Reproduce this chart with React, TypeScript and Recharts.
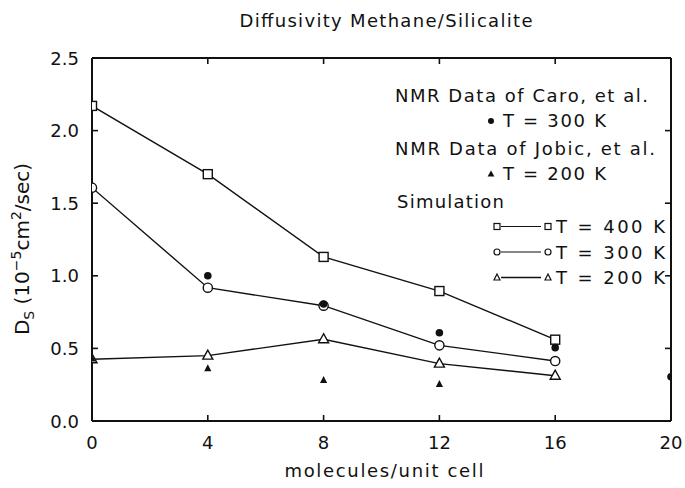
import React from 'react';
import { ComposedChart, Line, Scatter, XAxis, YAxis } from 'recharts';

// ---- data ----
const xTicks = [0, 4, 8, 12, 16, 20];
const yTicks = [0, 0.5, 1.0, 1.5, 2.0, 2.5];
const yTickLabels = ['0.0', '0.5', '1.0', '1.5', '2.0', '2.5'];

const simLoadings = [0, 4, 8, 12, 16];
const sim400 = [2.17, 1.70, 1.13, 0.895, 0.56];
const sim300 = [1.607, 0.918, 0.794, 0.521, 0.413];
const sim200 = [0.425, 0.45, 0.563, 0.395, 0.312];

const caroLoadings = [4, 8, 12, 16, 20];
const caro300 = [1.0, 0.806, 0.608, 0.505, 0.305];

const jobicLoadings = [0, 4, 8, 12];
const jobic200 = [0.43, 0.363, 0.282, 0.255];

const toPoints = (xs: number[], ys: number[]) => xs.map((x, i) => ({ x, y: ys[i] }));

const W = 685;
const H = 488;
const FONT = '"DejaVu Sans", "Liberation Sans", sans-serif';
const INK = '#111';
const TICK_LEN = 6;

// ---- markers ----
const OpenSquare = (props: any) => {
  const { cx, cy, index } = props;
  if (cx == null || cy == null) return <g key={`sq-${index}`} />;
  return (
    <rect key={`sq-${index}`} x={cx - 4.5} y={cy - 4.5} width={9} height={9}
      fill="#fff" stroke={INK} strokeWidth={1.4} />
  );
};
const OpenCircle = (props: any) => {
  const { cx, cy, index } = props;
  if (cx == null || cy == null) return <g key={`ci-${index}`} />;
  return <circle key={`ci-${index}`} cx={cx} cy={cy} r={4.6} fill="#fff" stroke={INK} strokeWidth={1.4} />;
};
const OpenTriangle = (props: any) => {
  const { cx, cy, index } = props;
  if (cx == null || cy == null) return <g key={`tr-${index}`} />;
  return (
    <polygon key={`tr-${index}`}
      points={`${cx},${cy - 5.5} ${cx - 5},${cy + 3.5} ${cx + 5},${cy + 3.5}`}
      fill="#fff" stroke={INK} strokeWidth={1.4} strokeLinejoin="miter" />
  );
};
const FilledCircle = (props: any) => {
  const { cx, cy } = props;
  return <circle cx={cx} cy={cy} r={3.8} fill={INK} />;
};
const FilledTriangle = (props: any) => {
  const { cx, cy } = props;
  return <polygon points={`${cx},${cy - 4} ${cx - 3.6},${cy + 3} ${cx + 3.6},${cy + 3}`} fill={INK} />;
};

// ---- axis ticks (inward tick marks + labels) ----
const BOTTOM_MARGIN = 15;
const LEFT_MARGIN = 13;

const BottomTick = (props: any) => {
  const { x, y, payload } = props;
  const axisY = y - BOTTOM_MARGIN;
  return (
    <g>
      <line x1={x} x2={x} y1={axisY} y2={axisY - TICK_LEN} stroke={INK} strokeWidth={1.6} />
      <text x={x} y={y} dy={13} textAnchor="middle" fontFamily={FONT} fontSize={18} fill={INK}>
        {payload.value}
      </text>
    </g>
  );
};
const LeftTick = (props: any) => {
  const { x, y, payload } = props;
  const axisX = x + LEFT_MARGIN;
  const i = yTicks.indexOf(payload.value);
  return (
    <g>
      <line x1={axisX} x2={axisX + TICK_LEN} y1={y} y2={y} stroke={INK} strokeWidth={1.6} />
      <text x={x} y={y} dy={6.5} textAnchor="end" fontFamily={FONT} fontSize={18} fill={INK}>
        {i >= 0 ? yTickLabels[i] : String(payload.value)}
      </text>
    </g>
  );
};
const TopTick = (props: any) => {
  const { x, y } = props;
  return <line x1={x} x2={x} y1={y} y2={y + TICK_LEN} stroke={INK} strokeWidth={1.6} />;
};
const RightTick = (props: any) => {
  const { x, y } = props;
  return <line x1={x} x2={x - TICK_LEN} y1={y} y2={y} stroke={INK} strokeWidth={1.6} />;
};

const axisLine = { stroke: INK, strokeWidth: 2 };

const textProps = { fontFamily: FONT, fontSize: 18, fill: INK } as const;

const LegendMarkerSq = ({ x, y, s }: { x: number; y: number; s: number }) => (
  <rect x={x - s / 2} y={y - s / 2} width={s} height={s} fill="#fff" stroke={INK} strokeWidth={1.2} />
);
const LegendMarkerCi = ({ x, y, s }: { x: number; y: number; s: number }) => (
  <circle cx={x} cy={y} r={s / 2} fill="#fff" stroke={INK} strokeWidth={1.2} />
);
const LegendMarkerTr = ({ x, y, s }: { x: number; y: number; s: number }) => (
  <polygon points={`${x},${y - s / 2 - 0.5} ${x - s / 2},${y + s / 2 - 0.5} ${x + s / 2},${y + s / 2 - 0.5}`}
    fill="#fff" stroke={INK} strokeWidth={1.2} />
);

export default function App() {
  return (
    <div style={{ position: 'absolute', left: 0, top: 0, width: W, height: H, background: '#fff' }}>
      <ComposedChart width={W} height={H} margin={{ top: 57, right: 13, bottom: 37, left: 32 }}>
        <XAxis xAxisId="bottom" type="number" dataKey="x" domain={[0, 20]} ticks={xTicks}
          allowDataOverflow height={30} tickSize={0} tickMargin={BOTTOM_MARGIN}
          axisLine={axisLine} tick={BottomTick} tickLine={false} interval={0} />
        <XAxis xAxisId="top" orientation="top" type="number" dataKey="x" domain={[0, 20]} ticks={xTicks}
          allowDataOverflow height={1} tickSize={0} tickMargin={0} tick={TopTick}
          axisLine={axisLine} tickLine={false} interval={0} />
        <YAxis yAxisId="left" type="number" domain={[0, 2.5]} ticks={yTicks} allowDataOverflow
          width={60} tickSize={0} tickMargin={LEFT_MARGIN} axisLine={axisLine}
          tick={LeftTick} tickLine={false} interval={0} />
        <YAxis yAxisId="right" orientation="right" type="number" domain={[0, 2.5]} ticks={yTicks}
          allowDataOverflow width={1} tickSize={0} tickMargin={0} tick={RightTick} axisLine={axisLine}
          tickLine={false} interval={0} />

        {/* invisible series binding the frame axes (top / right) so they are drawn */}
        <Line xAxisId="top" yAxisId="right" data={toPoints(simLoadings, sim400)} dataKey="y"
          stroke="none" dot={false} activeDot={false} legendType="none" isAnimationActive={false} />

        <Line xAxisId="bottom" yAxisId="left" data={toPoints(simLoadings, sim400)} dataKey="y" type="linear"
          stroke={INK} strokeWidth={1.4} dot={OpenSquare} activeDot={false} isAnimationActive={false} />
        <Line xAxisId="bottom" yAxisId="left" data={toPoints(simLoadings, sim300)} dataKey="y" type="linear"
          stroke={INK} strokeWidth={1.4} dot={OpenCircle} activeDot={false} isAnimationActive={false} />
        <Line xAxisId="bottom" yAxisId="left" data={toPoints(simLoadings, sim200)} dataKey="y" type="linear"
          stroke={INK} strokeWidth={1.4} dot={OpenTriangle} activeDot={false} isAnimationActive={false} />

        <Scatter xAxisId="bottom" yAxisId="left" data={toPoints(caroLoadings, caro300)} dataKey="y"
          shape={FilledCircle} isAnimationActive={false} />
        <Scatter xAxisId="bottom" yAxisId="left" data={toPoints(jobicLoadings, jobic200)} dataKey="y"
          shape={FilledTriangle} isAnimationActive={false} />
      </ComposedChart>

      <svg width={W} height={H} style={{ position: 'absolute', left: 0, top: 0, pointerEvents: 'none' }}>
        <text {...textProps} x={386} y={27} textAnchor="middle" textLength={293} lengthAdjust="spacing">
          Diffusivity Methane/Silicalite
        </text>
        <text {...textProps} x={384} y={477} textAnchor="middle" textLength={199} lengthAdjust="spacing">
          molecules/unit cell
        </text>
        <text fontFamily={FONT} fontSize={20} fill={INK} transform="translate(29,249) rotate(-90)" textAnchor="middle">
          <tspan>D</tspan>
          <tspan fontSize={14} dy={5}>S</tspan>
          <tspan dy={-5}> (10</tspan>
          <tspan fontSize={14} dy={-8}>−5</tspan>
          <tspan dy={8}>cm</tspan>
          <tspan fontSize={14} dy={-8}>2</tspan>
          <tspan dy={8}>/sec)</tspan>
        </text>

        {/* legend */}
        <text {...textProps} x={395} y={102} textLength={253} lengthAdjust="spacing">NMR Data of Caro, et al.</text>
        <circle cx={491} cy={121} r={3} fill={INK} />
        <text {...textProps} x={503} y={127} textLength={103} lengthAdjust="spacing">T = 300 K</text>
        <text {...textProps} x={395} y={155} textLength={260} lengthAdjust="spacing">NMR Data of Jobic, et al.</text>
        <polygon points="491,170.5 487.6,176.5 494.4,176.5" fill={INK} />
        <text {...textProps} x={503} y={180} textLength={103} lengthAdjust="spacing">T = 200 K</text>
        <text {...textProps} x={397} y={208} textLength={107} lengthAdjust="spacing">Simulation</text>

        <LegendMarkerSq x={497} y={226.5} s={6} />
        <line x1={501} x2={541} y1={226.5} y2={226.5} stroke={INK} strokeWidth={1.1} />
        <LegendMarkerSq x={548} y={226.5} s={6} />
        <text {...textProps} x={556} y={233} textLength={109} lengthAdjust="spacing">T = 400 K</text>

        <LegendMarkerCi x={497} y={252} s={6} />
        <line x1={501} x2={541} y1={252} y2={252} stroke={INK} strokeWidth={1.1} />
        <LegendMarkerCi x={548} y={252} s={6} />
        <text {...textProps} x={556} y={258.5} textLength={109} lengthAdjust="spacing">T = 300 K</text>

        <LegendMarkerTr x={497} y={277.5} s={6} />
        <line x1={501} x2={541} y1={277.5} y2={277.5} stroke={INK} strokeWidth={1.5} />
        <LegendMarkerTr x={548} y={277.5} s={6} />
        <text {...textProps} x={556} y={284} textLength={109} lengthAdjust="spacing">T = 200 K</text>
      </svg>
    </div>
  );
}
